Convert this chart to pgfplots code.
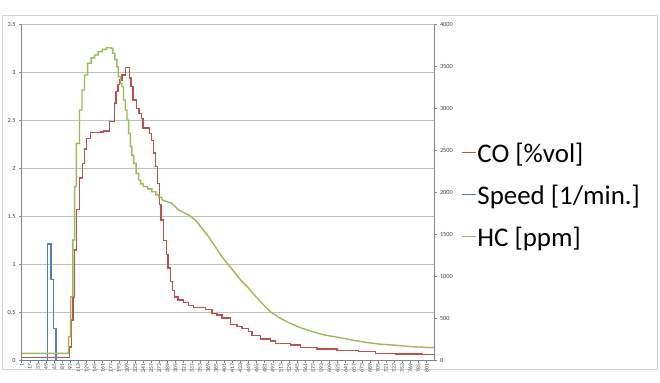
\documentclass[border=0pt]{standalone}
\usepackage{pgfplots}
\pgfplotsset{compat=1.18}
\usepackage{fontspec}
\setmainfont{Carlito}
\definecolor{cored}{HTML}{C0504D}
\definecolor{spblue}{HTML}{4F81BD}
\definecolor{hcgreen}{HTML}{9BBB59}
\definecolor{gridc}{HTML}{BFBFBF}
\definecolor{axc}{HTML}{868686}
\definecolor{lblc}{HTML}{404040}
\begin{document}
\begin{tikzpicture}
\useasboundingbox (0,0) rectangle (660bp,383bp);
\fill[white] (0,0) rectangle (660bp,383bp);
\draw[gray!35] (2bp,14bp) rectangle (657bp,368bp);
\pgfplotsset{
  common/.style={
    at={(21.5bp,22.7bp)}, anchor=south west,
    scale only axis, width=412.5bp, height=336bp,
    xmin=0.5, xmax=815.5,
    /pgf/number format/assume math mode=true,
    /pgf/number format/1000 sep={},
    tick align=outside, major tick length=2.5bp,
    tick style={axc, line width=0.6bp},
    legend image code/.code={\draw[#1, line width=1.4bp] (0bp,0.35em) -- (14bp,0.35em);},
  }
}
\begin{axis}[common,
  ymin=0, ymax=3.5,
  axis x line*=bottom, axis y line*=left,
  x axis line style={draw=axc, line width=1.5bp},
  y axis line style={draw=axc, line width=0.8bp},
  ytick={0,0.5,...,3.5},
  ymajorgrids, grid style={gridc, line width=0.8bp},
  xtick={1,17,...,801},
  xticklabel style={rotate=90, anchor=east, font=\fontsize{5.6}{6}\selectfont, text=lblc, inner sep=1bp},
  yticklabel style={font=\fontsize{6.3}{7}\selectfont, text=lblc, /pgf/number format/fixed},
  legend style={at={(1.065,0.483)}, anchor=west, draw=none, fill=none,
    font=\fontsize{27}{30}\selectfont, inner sep=0pt,
    nodes={text height=19bp, text depth=6bp, inner sep=1bp},
    row sep=15bp},
  legend cell align=left,
]
\addplot[color=cored, line width=1.4bp] coordinates {
(1,0.03) (95.5,0.03) (95.5,0.14) (98.8,0.14) (98.8,0.42) (102.1,0.42) (102.1,0.66) (105.4,0.66) (105.4,1.15) (108.7,1.15) (108.7,1.57) (114.6,1.57) (114.6,1.90) (121.2,1.90) (121.2,2.05) (125.1,2.05) (125.1,2.20) (128.5,2.20) (128.5,2.31) (136.4,2.31) (136.4,2.37) (156.1,2.37) (156.1,2.38) (162.7,2.38) (162.7,2.39) (174.5,2.39) (174.5,2.49) (183.8,2.49) (183.8,2.68) (187.2,2.68) (187.2,2.80) (191.1,2.80) (191.1,2.87) (194.3,2.87) (194.3,2.92) (199,2.92) (199,2.97) (205.5,2.97) (205.5,3.05) (213.5,3.05) (213.5,2.94) (216.8,2.94) (216.8,2.85) (220.8,2.85) (220.8,2.71) (227.3,2.71) (227.3,2.62) (232.6,2.62) (232.6,2.57) (237.2,2.57) (237.2,2.52) (240.5,2.52) (240.5,2.42) (253.6,2.42) (253.6,2.36) (256.9,2.36) (256.9,2.29) (261.5,2.29) (261.5,2.16) (265.4,2.16) (265.4,2.02) (269,2.02) (269,1.84) (273,1.84) (273,1.62) (276,1.62) (276,1.46) (281.2,1.46) (281.2,1.25) (286.6,1.25) (286.6,1.10) (289.9,1.10) (289.9,0.96) (294.5,0.96) (294.5,0.82) (299,0.82) (299,0.73) (303,0.73) (303,0.66) (309.7,0.66) (309.7,0.63) (320.8,0.63) (320.8,0.60) (330.7,0.60) (330.7,0.57) (340.5,0.57) (340.5,0.55) (363.6,0.55) (363.6,0.53) (376.9,0.53) (376.9,0.49) (386.8,0.49) (386.8,0.47) (396.6,0.47) (396.6,0.44) (413.1,0.44) (413.1,0.375) (426.3,0.375) (426.3,0.35) (436.2,0.35) (436.2,0.33) (449.2,0.33) (449.2,0.30) (456,0.30) (456,0.26) (472.3,0.26) (472.3,0.22) (492.1,0.22) (492.1,0.20) (502,0.20) (502,0.177) (531.6,0.177) (531.6,0.16) (551.4,0.16) (551.4,0.135) (584.4,0.135) (584.4,0.118) (623.9,0.118) (623.9,0.10) (666.6,0.10) (666.6,0.09) (699.6,0.09) (699.6,0.073) (739.1,0.073) (739.1,0.066) (791.9,0.066) (791.9,0.0625) (815,0.0625)
};
\addlegendentry{CO [\%vol]}
\addplot[color=spblue, line width=1.4bp] coordinates {
(1,0) (52.4,0) (52.4,1.21) (58.7,1.21) (58.7,0.84) (63.8,0.84) (63.8,0.33) (68.6,0.33) (68.6,0) (122.5,0)
};
\addlegendentry{Speed [1/min.]}
\addlegendimage{hcgreen}
\addlegendentry{HC [ppm]}
\end{axis}
\begin{axis}[common,
  ymin=0, ymax=4000,
  axis x line=none, axis y line*=right,
  y axis line style={draw=axc, line width=0.8bp},
  ytick={0,500,...,4000},
  yticklabel style={font=\fontsize{6.3}{7}\selectfont, text=lblc},
]
\addplot[color=hcgreen, line width=1.4bp] coordinates {
(1,83) (93.5,83) (93.5,281) (97.5,281) (97.5,757) (102,757) (102,1432) (105.5,1432) (105.5,2067) (109,2067) (109,2583) (115,2583) (115,2980) (120,2980) (120,3218) (125,3218) (125,3396) (131,3396) (131,3536) (138,3536) (138,3600) (145,3600) (145,3635) (152,3635) (152,3674) (160,3674) (160,3702) (168,3702) (168,3721) (178,3721) (178,3710) (181,3710) (181,3655) (185,3655) (185,3580) (189,3580) (189,3495) (192,3495) (192,3376) (196,3376) (196,3300) (199,3300) (199,3257) (202,3257) (202,3099) (205.5,3099) (205.5,2980) (209,2980) (209,2861) (212,2861) (212,2702) (215.5,2702) (215.5,2543) (218.5,2543) (218.5,2440) (222,2440) (222,2345) (227,2345) (227,2226) (232,2226) (232,2146) (236,2146) (236,2100) (241,2100) (241,2067) (250,2067) (250,2040) (258,2040) (258,2007) (266,2007) (266,1970) (272,1970) (272,1940) (278,1940) (278,1908) (297.8,1869) (310.9,1789) (330.7,1730) (343.9,1670) (357.1,1571) (370.2,1471) (383.4,1352) (396.6,1233) (409.7,1134) (422.9,1036) (436.2,936) (449.2,857) (462.5,765) (472.3,700) (492.1,579) (511.9,500) (531.6,440) (551.4,388) (571.2,349) (591,313) (610.7,289) (630.5,269) (650.3,245) (680,214) (706.1,194) (739.1,179) (772.1,162) (815,150)
};
\end{axis}
\end{tikzpicture}
\end{document}
